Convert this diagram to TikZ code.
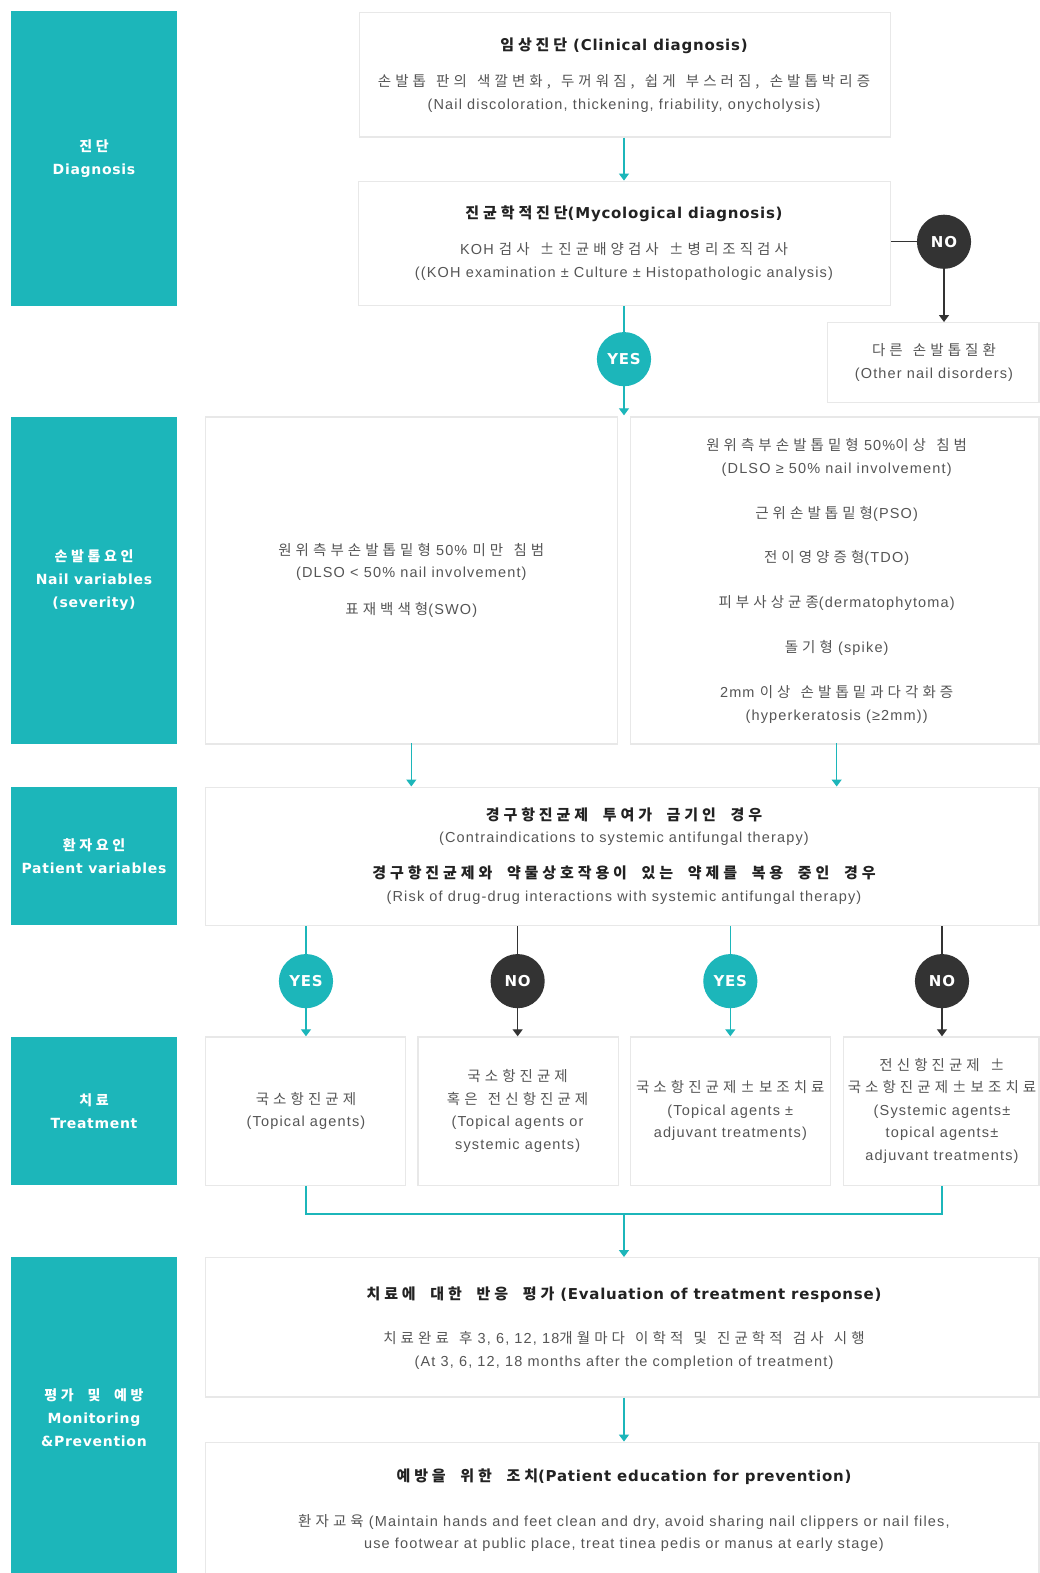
\documentclass[tikz,border=0pt]{standalone}
\usepackage{fontspec}
\setmainfont{Liberation Sans}[LetterSpace=8]
\newfontfamily\bff{DejaVu Sans}[LetterSpace=5]
\newfontfamily\krf{Noto Sans CJK KR}[LetterSpace=28, WordSpace=1.4]
\newfontfamily\krb{Noto Sans CJK KR}[LetterSpace=26, WordSpace=2.0]
\newcommand\K[1]{{\krf #1}}
\newcommand\KB[1]{{\krb #1}}
\newcommand\U{1.0032pt}
\usetikzlibrary{arrows.meta}
\definecolor{teal1}{RGB}{28,182,186}
\definecolor{dark1}{RGB}{51,51,51}
\definecolor{txt}{RGB}{85,85,85}
\definecolor{ttl}{RGB}{34,34,34}
\definecolor{bord}{RGB}{232,232,232}
\tikzset{
  box/.style={draw=bord, line width=1.2pt, fill=white, inner sep=0pt, anchor=north west},
  lab/.style={fill=teal1, inner sep=0pt, anchor=north west, text=white, align=center,
    font=\bff\bfseries\fontsize{14}{23}\selectfont},
  tx/.style={inner sep=0pt, yshift=-2.5pt, text=txt, font=\fontsize{14.5}{23}\selectfont, text height=10pt, text depth=3pt},
  tb/.style={inner sep=0pt, yshift=-2.5pt, text=ttl, font=\bff\bfseries\fontsize{15}{23}\selectfont, text height=10pt, text depth=3pt},
  yes/.style={circle, fill=teal1, minimum size=54*\U, inner sep=0pt, text=white, font=\bff\bfseries\fontsize{15}{18}\selectfont},
  no/.style={circle, fill=dark1, minimum size=54*\U, inner sep=0pt, text=white, font=\bff\bfseries\fontsize{15}{18}\selectfont},
  tl/.style={draw=teal1, line width=1.3pt},
  dl/.style={draw=dark1, line width=1.3pt},
  tip/.style={-{Triangle[width=10pt,length=7pt]}},
}
\begin{document}
\begin{tikzpicture}[x=\U,y=-\U]
\useasboundingbox[fill=white] (0,0) rectangle (1035.7,1568);
% left labels
\node[lab, minimum width=165*\U, minimum height=294*\U] (L1) at (11,11) {\KB{진단}\\Diagnosis};
\node[lab, minimum width=165*\U, minimum height=326*\U] (L2) at (11,415) {\KB{손발톱요인}\\Nail variables\\(severity)};
\node[lab, minimum width=165*\U, minimum height=138*\U] (L3) at (11,784) {\KB{환자요인}\\Patient variables};
\node[lab, minimum width=165*\U, minimum height=148*\U] (L4) at (11,1033) {\KB{치료}\\Treatment};
\node[lab, minimum width=165*\U, minimum height=320*\U] (L5) at (11,1253) {\KB{평가 및 예방}\\Monitoring\\\&Prevention};
% boxes
\node[box, minimum width=529*\U, minimum height=124*\U] (cli) at (358,12) {};
\node[box, minimum width=530*\U, minimum height=124*\U] (myc) at (357,180) {};
\node[box, minimum width=211*\U, minimum height=80*\U] (oth) at (824,321) {};
\node[box, minimum width=411*\U, minimum height=326*\U] (nl) at (204,415) {};
\node[box, minimum width=407*\U, minimum height=326*\U] (nr) at (628,415) {};
\node[box, minimum width=831*\U, minimum height=138*\U] (pat) at (204,784) {};
\node[box, minimum width=200*\U, minimum height=148*\U] (tr1) at (204,1033) {};
\node[box, minimum width=200*\U, minimum height=148*\U] (tr2) at (416,1033) {};
\node[box, minimum width=199*\U, minimum height=148*\U] (tr3) at (628,1033) {};
\node[box, minimum width=195*\U, minimum height=148*\U] (tr4) at (840,1033) {};
\node[box, minimum width=831*\U, minimum height=139*\U] (ev) at (204,1253) {};
\node[box, minimum width=831*\U, minimum height=136*\U] (pr) at (204,1437) {};
% texts: clinical
\node[tb] (t1) at (622,44) {\KB{임상진단} (Clinical diagnosis)};
\node[tx] (t2) at (622,80) {\K{손발톱 판의 색깔변화, 두꺼워짐, 쉽게 부스러짐, 손발톱박리증}};
\node[tx] (t3) at (622,103) {(Nail discoloration, thickening, friability, onycholysis)};
% mycological
\node[tb] (t4) at (622,212) {\KB{진균학적진단}(Mycological diagnosis)};
\node[tx] (t5) at (622,248) {KOH \K{검사 ±진균배양검사 ±병리조직검사}};
\node[tx] (t6) at (622,271) {((KOH examination ± Culture ± Histopathologic analysis)};
% other
\node[tx] (t7) at (931,348) {\K{다른 손발톱질환}};
\node[tx] (t8) at (931,371) {(Other nail disorders)};
% nail left
\node[tx] (t9) at (410,548) {\K{원위측부손발톱밑형} 50\% \K{미만 침범}};
\node[tx] (t10) at (410,570) {(DLSO < 50\% nail involvement)};
\node[tx] (t11) at (410,607) {\K{표재백색형}(SWO)};
% nail right
\node[tx] (t12) at (834,443) {\K{원위측부손발톱밑형} 50\%\K{이상 침범}};
\node[tx] (t13) at (834,466) {(DLSO ≥ 50\% nail involvement)};
\node[tx] (t14) at (834,511) {\K{근위손발톱밑형}(PSO)};
\node[tx] (t15) at (834,555) {\K{전이영양증형}(TDO)};
\node[tx] (t16) at (834,600) {\K{피부사상균종}(dermatophytoma)};
\node[tx] (t17) at (834,644) {\K{돌기형} (spike)};
\node[tx] (t18) at (834,689) {2mm \K{이상 손발톱밑과다각화증}};
\node[tx] (t19) at (834,712) {(hyperkeratosis (≥2mm))};
% patient
\node[tb] (t20) at (622,812) {\KB{경구항진균제 투여가 금기인 경우}};
\node[tx] (t21) at (622,834) {(Contraindications to systemic antifungal therapy)};
\node[tb] (t22) at (622,870) {\KB{경구항진균제와 약물상호작용이 있는 약제를 복용 중인 경우}};
\node[tx] (t23) at (622,893) {(Risk of drug-drug interactions with systemic antifungal therapy)};
% treatments
\node[tx] (u1) at (305,1095) {\K{국소항진균제}};
\node[tx] (u2) at (305,1117) {(Topical agents)};
\node[tx] (u3) at (516,1072) {\K{국소항진균제}};
\node[tx] (u4) at (516,1095) {\K{혹은 전신항진균제}};
\node[tx] (u5) at (516,1117) {(Topical agents or};
\node[tx] (u6) at (516,1140) {systemic agents)};
\node[tx] (u7) at (728,1083) {\K{국소항진균제±보조치료}};
\node[tx] (u8) at (728,1106) {(Topical agents ±};
\node[tx] (u9) at (728,1128) {adjuvant treatments)};
\node[tx] (u10) at (939,1061) {\K{전신항진균제 ±}};
\node[tx] (u11) at (939,1083) {\K{국소항진균제±보조치료}};
\node[tx] (u12) at (939,1106) {(Systemic agents±};
\node[tx] (u13) at (939,1128) {topical agents±};
\node[tx] (u14) at (939,1151) {adjuvant treatments)};
% evaluation
\node[tb] (v1) at (622,1289) {\KB{치료에 대한 반응 평가} (Evaluation of treatment response)};
\node[tx] (v2) at (622,1333) {\K{치료완료 후} 3, 6, 12, 18\K{개월마다 이학적 및 진균학적 검사 시행}};
\node[tx] (v3) at (622,1356) {(At 3, 6, 12, 18 months after the completion of treatment)};
% prevention
\node[tb] (w1) at (622,1471) {\KB{예방을 위한 조치}(Patient education for prevention)};
\node[tx] (w2) at (622,1516) {\K{환자교육} (Maintain hands and feet clean and dry, avoid sharing nail clippers or nail files,};
\node[tx] (w3) at (622,1538) {use footwear at public place, treat tinea pedis or manus at early stage)};
% circles
\node[yes] (y0) at (622,358) {YES};
\node[no] (n0) at (941,241) {NO};
\node[yes] (c1) at (305,978) {YES};
\node[no] (c2) at (516,978) {NO};
\node[yes] (c3) at (728,978) {YES};
\node[no] (c4) at (939,978) {NO};
\coordinate (nailtop) at (622,414);
\coordinate (mj) at (622,1210);
\coordinate (nla) at (410,741);
\coordinate (nra) at (834,741);
% connectors
\draw[tl,tip] (cli.south -| y0) -- (myc.north -| y0);
\draw[tl] (myc.south -| y0) -- (y0);
\draw[tl,tip] (y0) -- (nailtop);
\draw[dl] (myc.east |- n0) -- (n0);
\draw[dl,tip] (n0) -- (n0 |- oth.north);
\draw[tl,tip] (nla) -- (nla |- pat.north);
\draw[tl,tip] (nra) -- (nra |- pat.north);
\draw[tl] (c1 |- pat.south) -- (c1);
\draw[tl,tip] (c1) -- (c1 |- tr1.north);
\draw[dl] (c2 |- pat.south) -- (c2);
\draw[dl,tip] (c2) -- (c2 |- tr2.north);
\draw[tl] (c3 |- pat.south) -- (c3);
\draw[tl,tip] (c3) -- (c3 |- tr3.north);
\draw[dl] (c4 |- pat.south) -- (c4);
\draw[dl,tip] (c4) -- (c4 |- tr4.north);
\draw[tl] (c1 |- tr1.south) |- (mj) -| (c4 |- tr4.south);
\draw[tl,tip] (mj) -- (mj |- ev.north);
\draw[tl,tip] (ev.south -| mj) -- (pr.north -| mj);
\end{tikzpicture}
\end{document}
